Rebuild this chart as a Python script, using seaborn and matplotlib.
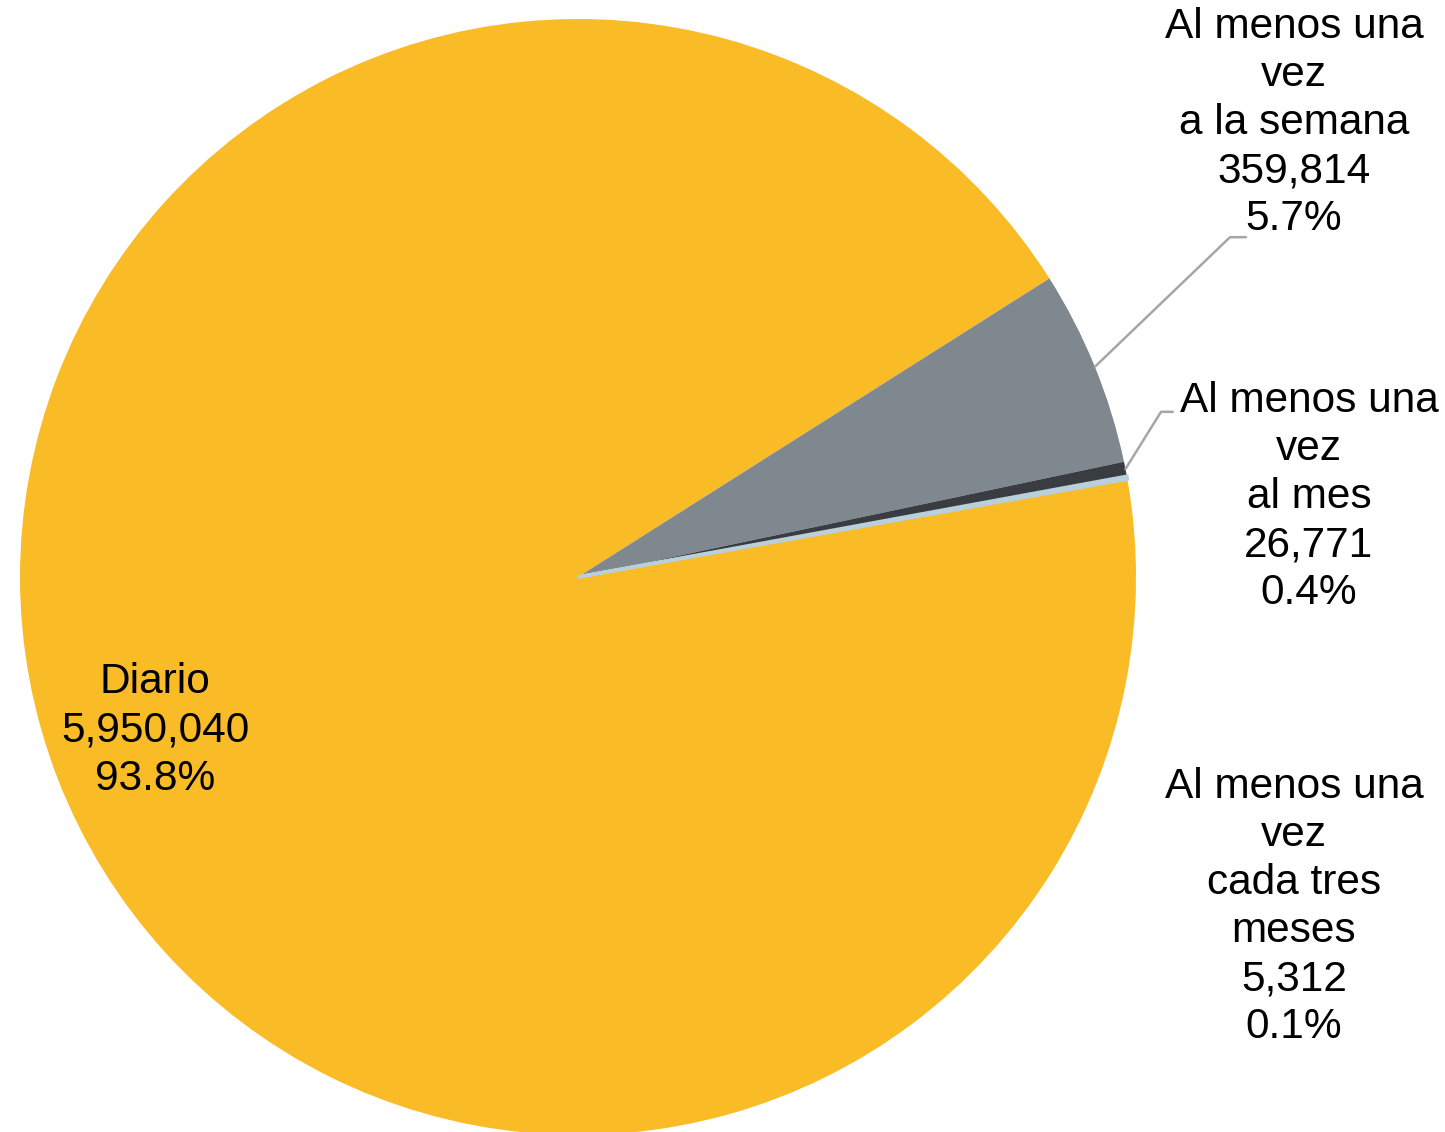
import numpy as np
import seaborn as sns
import matplotlib
matplotlib.use("Agg")
import matplotlib.pyplot as plt

# datos del gráfico
categorias = ["Diario", "Al menos una\nvez\na la semana", "Al menos una\nvez\nal mes",
              "Al menos una\nvez\ncada tres\nmeses"]
valores = [5950040, 359814, 26771, 5312]
colores = ["#F9BB26", "#7F888E", "#393D41", "#B9D0DA"]

sns.set_style("white")
plt.rcParams["font.family"] = ["Liberation Sans", "DejaVu Sans"]

fig = plt.figure(figsize=(14.45, 11.32), dpi=100)
ax = fig.add_axes([0, 0, 1, 1])
ax.axis("off")

wedges, _ = ax.pie(valores, colors=colores, startangle=10.1, counterclock=False,
                   radius=1.0, wedgeprops=dict(linewidth=0))
# la porción más pequeña se ve algo más gruesa en el original
wedges[3].set_edgecolor(colores[3])
wedges[3].set_linewidth(2.5)

# 1 unidad = 558 px, centro en (578, 577)
ax.set_xlim(-578 / 558, (1445 - 578) / 558)
ax.set_ylim((577 - 1132) / 558, 577 / 558)

total = sum(valores)
etiquetas = [f"{c}\n{v:,}\n{v / total * 100:.1f}%" for c, v in zip(categorias, valores)]

pos_texto = [(-0.758, -0.275), (1.283, 0.813), (1.31, 0.143), (1.283, -0.592)]
for etq, (x, y) in zip(etiquetas, pos_texto):
    ax.text(x, y, etq, ha="center", va="center", fontsize=30.5, linespacing=1.26,
            color="black")

# líneas guía
codos = {1: [(1.1685, 0.609), (1.197, 0.609)], 2: [(1.0448, 0.296), (1.066, 0.296)]}
for i, pts in codos.items():
    w = wedges[i]
    ang = np.deg2rad((w.theta1 + w.theta2) / 2)
    x0, y0 = np.cos(ang) * 1.0, np.sin(ang) * 1.0
    xs = [x0] + [p[0] for p in pts]
    ys = [y0] + [p[1] for p in pts]
    ax.plot(xs, ys, color="#A6A6A6", linewidth=1.8)

plt.savefig("out.png", dpi=100)
